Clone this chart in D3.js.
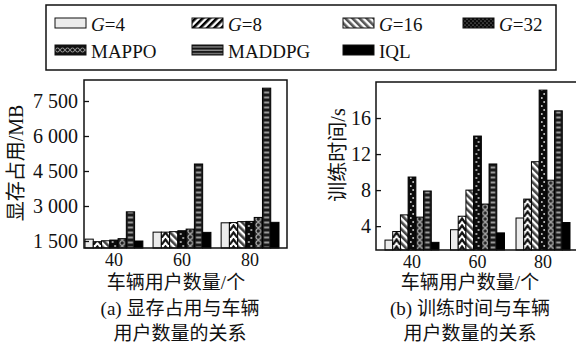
<!DOCTYPE html>
<html>
<head>
<meta charset="utf-8">
<script src="https://cdn.jsdelivr.net/npm/d3@7"></script>
<style>
body { margin: 0; background: #fff; }
svg text { font-family: "Liberation Serif", "Noto Sans CJK SC", serif; fill: #111; }
</style>
</head>
<body>
<script>
// vehicle users per group, methods per bar
var users = ['40', '60', '80'];
var methods = ['G=4', 'G=8', 'G=16', 'G=32', 'MAPPO', 'MADDPG', 'IQL'];

// GPU memory (MB), one array per user count, in method order
var memory40 = [1580, 1470, 1510, 1540, 1600, 2750, 1500];
var memory60 = [1880, 1880, 1900, 1940, 2010, 4800, 1870];
var memory80 = [2280, 2290, 2330, 2340, 2510, 8050, 2300];

// training time (s)
var time40 = [2.45, 3.4, 5.25, 9.45, 5.0, 7.9, 2.2];
var time60 = [3.6, 5.1, 8.0, 14.0, 6.45, 10.9, 3.25];
var time80 = [4.9, 7.0, 11.15, 19.1, 9.1, 16.8, 4.4];

var memoryTicks = [1500, 3000, 4500, 6000, 7500];
var timeTicks = [4, 8, 12, 16];

var W = 576, H = 346;

var svg = d3.select('body').append('svg')
	.attr('width', W)
	.attr('height', H);

var defs = svg.append('defs');

var spaced = d3.formatLocale({decimal: '.', thousands: ' ', grouping: [3], currency: ['', '']}).format(',');

// one pattern per bar so the motif sits centred in it
function barFill(id, k, x0, w) {
	if (k === 0) return '#ececec';
	if (k === 6) return '#000';
	var p = defs.append('pattern')
	.attr('id', id)
	.attr('patternUnits', 'userSpaceOnUse')
	.attr('x', x0)
	.attr('y', 0);
	if (k === 1) {
		p.attr('width', w).attr('height', 7);
		p.append('rect').attr('width', w).attr('height', 7).attr('fill', '#fff');
		p.append('path')
		.attr('d', 'M0,7L' + (w / 2) + ',1.5L' + w + ',7')
		.attr('fill', 'none').attr('stroke', '#111').attr('stroke-width', 2.2);
	} else if (k === 2) {
		p.attr('width', 5).attr('height', 5).attr('patternTransform', 'rotate(-45)');
		p.append('rect').attr('width', 5).attr('height', 5).attr('fill', '#fff');
		p.append('rect').attr('width', 2.6).attr('height', 5).attr('fill', '#444');
	} else if (k === 3) {
		p.attr('width', w).attr('height', 8);
		p.append('rect').attr('width', w).attr('height', 8).attr('fill', '#0a0a0a');
		p.append('circle').attr('cx', w * 0.35).attr('cy', 2).attr('r', 0.9).attr('fill', '#ddd');
		p.append('circle').attr('cx', w * 0.65).attr('cy', 6).attr('r', 0.9).attr('fill', '#ddd');
	} else if (k === 4) {
		p.attr('width', w).attr('height', 6);
		p.append('rect').attr('width', w).attr('height', 6).attr('fill', '#222');
		p.append('circle').attr('cx', w / 2).attr('cy', 3).attr('r', 2.3)
		.attr('fill', 'none').attr('stroke', '#aaa').attr('stroke-width', 1.2);
	} else if (k === 5) {
		p.attr('width', w).attr('height', 5);
		p.append('rect').attr('width', w).attr('height', 5).attr('fill', '#1a1a1a');
		p.append('rect').attr('x', 1.6).attr('y', 1.5).attr('width', w - 3.2).attr('height', 2).attr('fill', '#9a9a9a');
	}
	return 'url(#' + id + ')';
}

function panel(cfg) {
	var x0 = d3.scaleBand().domain(users).range(cfg.bars).paddingInner(cfg.pad);
	var x1 = d3.scaleBand().domain(methods).range([0, x0.bandwidth()]);
	var y = d3.scaleLinear().domain(cfg.domain).range([cfg.bottom, cfg.top]);

	var g = svg.append('g');

	cfg.values.forEach(function(vals, gi) {
		vals.forEach(function(v, k) {
			var bx = x0(users[gi]) + x1(methods[k]);
			g.append('rect')
			.attr('x', bx)
			.attr('y', y(v))
			.attr('width', x1.bandwidth())
			.attr('height', cfg.bottom - y(v))
			.attr('fill', barFill(cfg.id + gi + '-' + k, k, bx, x1.bandwidth()))
			.attr('stroke', '#000')
			.attr('stroke-width', 1);
		});
	});

	g.append('rect')
	.attr('x', cfg.left)
	.attr('y', cfg.top)
	.attr('width', cfg.right - cfg.left)
	.attr('height', cfg.bottom - cfg.top)
	.attr('fill', 'none')
	.attr('stroke', '#111')
	.attr('stroke-width', 1.5);

	var ya = g.append('g')
	.attr('transform', 'translate(' + cfg.left + ',0)')
	.call(d3.axisLeft(y).tickValues(cfg.ticks).tickSizeInner(-5).tickSizeOuter(0)
		.tickPadding(cfg.tickPad).tickFormat(cfg.format));
	ya.select('.domain').remove();
	ya.selectAll('line').attr('stroke', '#111').attr('stroke-width', 1.3);
	ya.selectAll('text').style('font-size', '20px').attr('font-family', null);

	var xa = g.append('g')
	.attr('transform', 'translate(0,' + cfg.bottom + ')')
	.call(d3.axisBottom(x0).tickSize(0).tickPadding(5));
	xa.select('.domain').remove();
	xa.selectAll('text').style('font-size', '18px').attr('font-family', null);

	g.append('text')
	.attr('transform', 'translate(' + cfg.ylabelX + ',' + cfg.ylabelY + ') rotate(-90)')
	.attr('text-anchor', 'middle')
	.style('font-size', '20px')
	.text(cfg.ylabel);

	g.append('text')
	.attr('x', cfg.titleX)
	.attr('y', 289)
	.attr('text-anchor', 'middle')
	.style('font-size', '19px')
	.text('车辆用户数量/个');

	cfg.caption.forEach(function(line, i) {
		g.append('text')
		.attr('x', cfg.captionX)
		.attr('y', 315 + i * 25)
		.attr('text-anchor', 'middle')
		.style('font-size', '19px')
		.text(line);
	});
}

panel({
	id: 'a', left: 84, right: 287, top: 80, bottom: 248,
	bars: [85, 279], pad: 0.15,
	domain: [1200, 8400], ticks: memoryTicks, format: spaced, tickPad: 6,
	values: [memory40, memory60, memory80],
	ylabel: '显存占用/MB', ylabelX: 23, ylabelY: 163,
	titleX: 176, captionX: 180,
	caption: ['(a) 显存占用与车辆', '用户数量的关系']
});

panel({
	id: 'b', left: 376, right: 580, top: 82, bottom: 250,
	bars: [385, 570], pad: 0.176,
	domain: [1.35, 20], ticks: timeTicks, format: d3.format('d'), tickPad: 5,
	values: [time40, time60, time80],
	ylabel: '训练时间/s', ylabelX: 345, ylabelY: 155,
	titleX: 470, captionX: 470,
	caption: ['(b) 训练时间与车辆', '用户数量的关系']
});

// legend
var legendCols = [55, 192, 343, 463];
var legend = svg.append('g');

legend.append('rect')
.attr('x', 46).attr('y', 5)
.attr('width', 510).attr('height', 65)
.attr('fill', '#fff')
.attr('stroke', '#111')
.attr('stroke-width', 1.5);

function legendFill(k) {
	if (k === 0) return '#ececec';
	if (k === 6) return '#000';
	var id = 'leg' + k;
	var p = defs.append('pattern').attr('id', id).attr('patternUnits', 'userSpaceOnUse');
	if (k === 1 || k === 2) {
		p.attr('width', 5).attr('height', 5).attr('patternTransform', k === 1 ? 'rotate(45)' : 'rotate(-45)');
		p.append('rect').attr('width', 5).attr('height', 5).attr('fill', '#fff');
		p.append('rect').attr('width', 2.6).attr('height', 5).attr('fill', k === 1 ? '#000' : '#555');
	} else if (k === 3) {
		p.attr('width', 4).attr('height', 4);
		p.append('rect').attr('width', 4).attr('height', 4).attr('fill', '#0a0a0a');
		p.append('circle').attr('cx', 1).attr('cy', 1).attr('r', 0.6).attr('fill', '#bbb');
		p.append('circle').attr('cx', 3).attr('cy', 3).attr('r', 0.6).attr('fill', '#bbb');
	} else if (k === 4) {
		p.attr('width', 5).attr('height', 10).attr('y', 45);
		p.append('rect').attr('width', 5).attr('height', 10).attr('fill', '#111');
		p.append('circle').attr('cx', 2.5).attr('cy', 5).attr('r', 2).attr('fill', 'none')
		.attr('stroke', '#999').attr('stroke-width', 1);
	} else if (k === 5) {
		p.attr('width', 4).attr('height', 3.4).attr('y', 45);
		p.append('rect').attr('width', 4).attr('height', 3.4).attr('fill', '#111');
		p.append('rect').attr('y', 1.2).attr('width', 4).attr('height', 1.4).attr('fill', '#8a8a8a');
	}
	return 'url(#' + id + ')';
}

methods.forEach(function(m, k) {
	var col = k < 4 ? k : k - 4;
	var row = k < 4 ? 0 : 1;
	var lx = legendCols[col];
	var ly = 18 + row * 27;
	var item = legend.append('g');
	item.append('rect')
	.attr('x', lx).attr('y', ly)
	.attr('width', 31).attr('height', 10)
	.attr('fill', legendFill(k))
	.attr('stroke', '#111')
	.attr('stroke-width', 1);
	var t = item.append('text')
	.attr('x', lx + 36)
	.attr('y', ly + 13)
	.style('font-size', '19px');
	if (m.indexOf('G=') === 0) {
		t.append('tspan').style('font-style', 'italic').text('G');
		t.append('tspan').text(m.slice(1));
	} else {
		t.text(m);
	}
});
</script>
</body>
</html>
